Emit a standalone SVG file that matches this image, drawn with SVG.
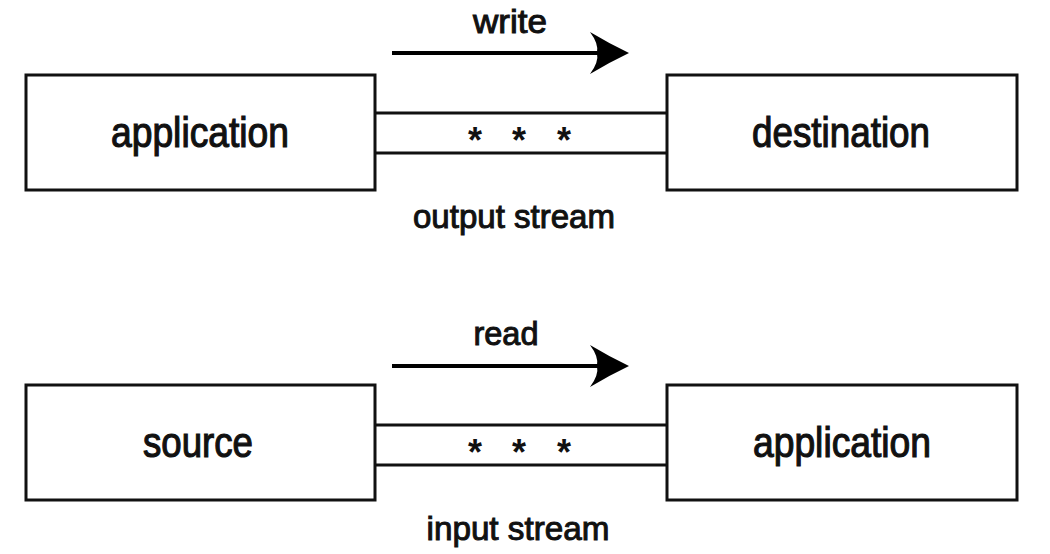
<svg xmlns="http://www.w3.org/2000/svg" width="1050" height="554" viewBox="0 0 1050 554">
<style>
.box{fill:#fff;stroke:#111;stroke-width:3}
.ln{stroke:#111;stroke-width:3;fill:none}
.arr{stroke:#000;stroke-width:4;fill:none}
.head{fill:#000}
.lbl{font-family:"Liberation Sans",Arial,sans-serif;font-size:43px;fill:#111;stroke:#111;stroke-width:1.2;text-anchor:middle}
.sm{font-family:"Liberation Sans",Arial,sans-serif;font-size:33px;fill:#111;stroke:#111;stroke-width:1;text-anchor:middle}
.star{font-family:"Liberation Sans",Arial,sans-serif;font-size:36px;font-weight:bold;fill:#111;text-anchor:middle}
</style>
<rect width="1050" height="554" fill="#fff"/>
<g id="connectors">
  <line class="ln" x1="375" y1="113" x2="667" y2="113"/>
  <line class="ln" x1="375" y1="153" x2="667" y2="153"/>
  <line class="ln" x1="375" y1="425" x2="667" y2="425"/>
  <line class="ln" x1="375" y1="465" x2="667" y2="465"/>
  <line class="arr" x1="392" y1="53" x2="600" y2="53"/>
  <path class="head" d="M629,53 Q610,44 590,32 Q599,44 597,53 Q599,62 590,74 Q610,62 629,53 Z"/>
  <line class="arr" x1="392" y1="366" x2="600" y2="366"/>
  <path class="head" d="M629,366 Q610,357 590,345 Q599,357 597,366 Q599,375 590,387 Q610,375 629,366 Z"/>
</g>
<g id="app-top">
  <rect class="box" x="26" y="75" width="349" height="115"/>
  <text class="lbl" x="200" y="147" textLength="178" lengthAdjust="spacingAndGlyphs">application</text>
</g>
<g id="destination">
  <rect class="box" x="667" y="75" width="350" height="115"/>
  <text class="lbl" x="841" y="147" textLength="178" lengthAdjust="spacingAndGlyphs">destination</text>
</g>
<g id="output-stream">
  <text class="sm" x="510" y="33" textLength="74" lengthAdjust="spacingAndGlyphs">write</text>
  <text class="star" x="475" y="153">*</text>
  <text class="star" x="519" y="153">*</text>
  <text class="star" x="564" y="153">*</text>
  <text class="sm" x="514" y="228" textLength="202" lengthAdjust="spacingAndGlyphs">output stream</text>
</g>
<g id="source">
  <rect class="box" x="26" y="385" width="349" height="115"/>
  <text class="lbl" x="198" y="457" textLength="110" lengthAdjust="spacingAndGlyphs">source</text>
</g>
<g id="app-bottom">
  <rect class="box" x="667" y="385" width="350" height="115"/>
  <text class="lbl" x="842" y="457" textLength="178" lengthAdjust="spacingAndGlyphs">application</text>
</g>
<g id="input-stream">
  <text class="sm" x="506" y="345" textLength="65" lengthAdjust="spacingAndGlyphs">read</text>
  <text class="star" x="475" y="465">*</text>
  <text class="star" x="519" y="465">*</text>
  <text class="star" x="564" y="465">*</text>
  <text class="sm" x="518" y="540" textLength="183" lengthAdjust="spacingAndGlyphs">input stream</text>
</g>
</svg>
